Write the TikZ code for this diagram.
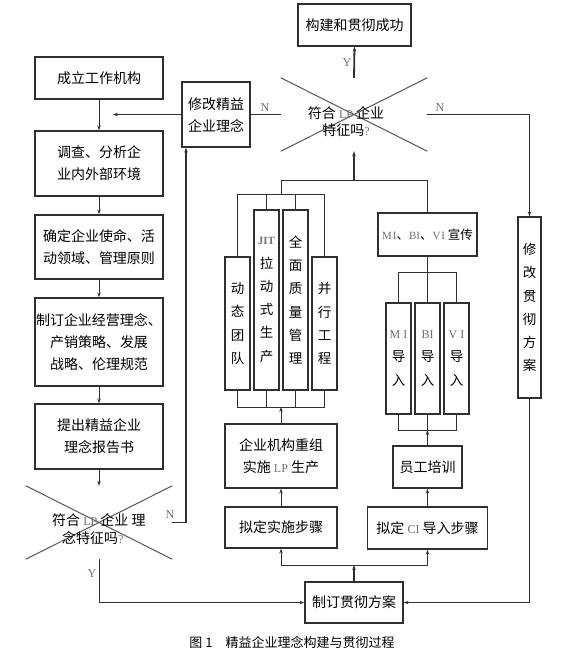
\documentclass[tikz,border=0pt]{standalone}
\usepackage{fontspec}
\newfontfamily\cjk{Noto Sans CJK SC}
\newfontfamily\lat{Liberation Serif}
\usetikzlibrary{arrows.meta}
\definecolor{lc}{HTML}{303030}
\definecolor{xc}{HTML}{555555}
\definecolor{gt}{HTML}{707070}
\newcommand\zh{\cjk\fontsize{14}{22}\selectfont}
\newcommand\zhv{\cjk\fontsize{13.5}{23.3}\selectfont}
\newcommand\zhd{\cjk\fontsize{14}{17.5}\selectfont}
\newcommand\gl[1]{{\lat\fontsize{12}{12}\selectfont\color{gt}#1}}
\newcommand\gs[1]{{\lat\fontsize{11}{11}\selectfont\color{gt}#1}}
\begin{document}
\begin{tikzpicture}[x=1pt,y=-1pt,
  >={Stealth[length=5pt,width=3.4pt]},
  box/.style={draw=lc,line width=1.2pt,inner sep=0pt,align=center,font=\zh},
  vbox/.style={box,font=\zhv,minimum width=25},
  ln/.style={draw=lc,line width=1pt},
  thk/.style={draw=lc,line width=1.8pt},
  xline/.style={draw=xc,line width=1pt},
  lab/.style={font=\lat\fontsize{12}{12}\selectfont,text=gt,inner sep=0pt}]
\fill[white] (0,0) rectangle (580,665);
\useasboundingbox (0,0) rectangle (580,665);
% left column
\node[box,minimum width=128,minimum height=42] (b1) at (99,78) {成立工作机构};
\node[box,minimum width=128,minimum height=65] (b2) at (99,163.5) {调查、分析企\\业内外部环境};
\node[box,minimum width=128,minimum height=64] (b3) at (99,247) {确定企业使命、活\\动领域、管理原则};
\node[box,minimum width=128,minimum height=88] (b4) at (99,342) {制订企业经营理念、\\产销策略、发展\\战略、伦理规范};
\node[box,minimum width=128,minimum height=65] (b5) at (99,436.5) {提出精益企业\\理念报告书};
% left decision
\node[minimum width=146,minimum height=73,inner sep=0pt] (d1) at (99,522.5) {};
\draw[xline] (d1.north west) -- (d1.south east) (d1.south west) -- (d1.north east);
\node[font=\zhd,align=left,anchor=west,inner sep=0pt] (d1t) at (52,529) {符合 \gl{LP} 企业 理\\\hspace*{10pt}念特征吗\gl{?}};
% top
\node[box,minimum width=113,minimum height=42] (top) at (354.5,25) {构建和贯彻成功};
\node[minimum width=146,minimum height=73,inner sep=0pt] (d2) at (354,114.5) {};
\draw[xline] (d2.north west) -- (d2.south east) (d2.south west) -- (d2.north east);
\node[font=\zhd,align=center,inner sep=0pt] (d2t) at (346,121.5) {符合 \gl{LP} 企业\\特征吗\gl{?}};
\node[box,minimum width=68,minimum height=65] (m1) at (216,114.5) {修改精益\\企业理念};
\node[vbox,minimum width=23,minimum height=181] (m2) at (529.5,307.5) {修\\改\\贯\\彻\\方\\案};
% columns
\node[vbox,minimum height=133] (c1) at (237.5,323.5) {动\\态\\团\\队};
\node[vbox,minimum height=180] (c2) at (266.5,300) {{\lat\fontsize{11}{11}\selectfont\bfseries\color{gt}JIT}\\拉\\动\\式\\生\\产};
\node[vbox,minimum height=180] (c3) at (295.5,300) {全\\面\\质\\量\\管\\理};
\node[vbox,minimum height=133] (c4) at (324.5,323.5) {并\\行\\工\\程};
\node[box,minimum width=99,minimum height=43,font=\cjk\fontsize{12.5}{14}\selectfont] (p) at (427.5,234.5) {\gs{M\kern1pt I}、\gs{BI}、\gs{V\kern1pt I} 宣传};
\node[vbox,minimum height=111] (i1) at (398.5,358.5) {\gl{M I}\\导\\入};
\node[vbox,minimum height=111] (i2) at (427.5,358.5) {\gl{BI}\\导\\入};
\node[vbox,minimum height=111] (i3) at (456.5,358.5) {\gl{V I}\\导\\入};
\node[box,minimum width=112,minimum height=64] (r1) at (281,456) {企业机构重组\\实施 \gl{LP} 生产};
\node[box,minimum width=112,minimum height=41] (r2) at (281,527.5) {拟定实施步骤};
\node[box,minimum width=69,minimum height=42] (e1) at (427.5,467) {员工培训};
\node[box,minimum width=120,minimum height=42] (e2) at (427.5,528) {拟定 \gl{CI} 导入步骤};
\node[box,minimum width=98,minimum height=41] (f) at (354,602.5) {制订贯彻方案};
% caption
\node[font=\cjk\fontsize{13}{13}\selectfont,inner sep=0pt] (cap) at (292,642) {图 1\quad 精益企业理念构建与贯彻过程};
% labels
\node[lab] (n1) at (265,108) {N};
\node[lab] (n2) at (440,108) {N};
\node[lab] (n3) at (170,515) {N};
\node[lab] (y1) at (347,63) {Y};
\node[lab] (y2) at (92,574) {Y};
% connectors left column
\draw[ln,->] (b1) -- (b2);
\draw[ln,->] (b2) -- (b3);
\draw[ln,->] (b3) -- (b4);
\draw[ln,->] (b4) -- (b5);
\draw[ln,->] (b5) -- (d1.north);
\coordinate (ma) at (113,114.5);
\draw[ln,->] (m1.west) -- (ma);
\draw[ln] (d2.west) -- (m1.east);
\draw[ln,->] (d2.east) -| (m2.north);
\draw[ln,->] (m2.south) |- (f.east);
\draw[thk,->] (d2.north) -- (top.south);
\draw[ln,->] (d1.south) |- (f.west);
\coordinate (nk) at (186,522.5);
\draw[thk,->] (d1.east) -- (nk) -- (nk |- m1.south);
% bottom branch
\coordinate (fb) at (354,565);
\draw[thk,->] (f.north) -- (fb);
\draw[ln,->] (fb) -| (r2.south);
\draw[ln,->] (fb) -| (e2.south);
\draw[ln,->] (r2) -- (r1);
\coordinate (cb) at (281,407);
\draw[ln,->] (r1.north) -- (cb);
% column connectors
\draw[ln] (c1.south) -- ++(0,17) -| (c4.south);
\draw[ln] (c2.south) -- ++(0,17);
\draw[ln] (c3.south) -- ++(0,17);
\draw[thk] (c1.north) -- ++(0,-62) -| (c4.north);
\draw[thk] (c2.north) -- ++(0,-15);
\draw[thk] (c3.north) -- ++(0,-15);
\coordinate (ct) at (281,195);
\coordinate (tj) at (281,180);
\coordinate (tm) at (354,180);
\draw[ln] (ct) -- (tj) -| (p.north);
\draw[thk,->] (tm) -- (d2.south);
% CI connectors
\draw[thk] (p.south) -- (i2.north);
\draw[ln] (i1.north) -- ++(0,-30) -| (i3.north);
\draw[ln] (i1.south) -- ++(0,16) -| (i3.south);
\draw[thk] (i2.south) -- ++(0,16);
\coordinate (ib) at (427.5,430);
\draw[thk,->] (e1.north) -- (ib);
\draw[thk,->] (e2) -- (e1);
\end{tikzpicture}
\end{document}
